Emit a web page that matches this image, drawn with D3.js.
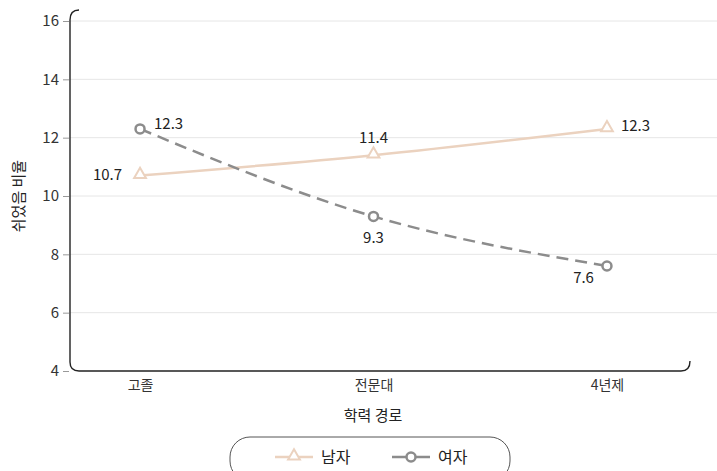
<!DOCTYPE html>
<html>
<head>
<meta charset="utf-8">
<script src="https://cdn.jsdelivr.net/npm/d3@7"></script>
<style>
  html, body { margin: 0; padding: 0; background: #fff; }
  svg text { font-family: "Noto Sans CJK KR", "Noto Sans", sans-serif; fill: #222; }
</style>
</head>
<body>
<svg id="chart" width="717" height="471"></svg>
<script>
// Education path categories and rates (%)
const categories = ["고졸", "전문대", "4년제"];
const maleValues = [10.7, 11.4, 12.3];
const femaleValues = [12.3, 9.3, 7.6];
const yTicks = [4, 6, 8, 10, 12, 14, 16];
const seriesNames = ["남자", "여자"];

const svg = d3.select("#chart");
const W = 717, H = 471;
const plotLeft = 70, plotRight = 690, plotTop = 21, plotBottom = 371;

const x = d3.scalePoint().domain(categories).range([70, 677]).padding(0.3);
const y = d3.scaleLinear().domain([4, 16]).range([plotBottom, plotTop]);

// grid lines
svg.append("g").selectAll("line").data(yTicks.filter(t => t > 4)).join("line")
  .attr("x1", plotLeft).attr("x2", W)
  .attr("y1", d => y(d)).attr("y2", d => y(d))
  .attr("stroke", "#e6e6e6").attr("stroke-width", 1);

// y axis ticks and labels
const yAxis = d3.axisLeft(y).tickValues(yTicks).tickSize(6).tickPadding(4);
const gy = svg.append("g").attr("transform", `translate(${plotLeft - 1},0)`).call(yAxis);
gy.select(".domain").remove();
gy.selectAll(".tick line").attr("stroke", "#999");
gy.selectAll(".tick text").style("font-size", "15px").style("fill", "#333");

// x axis labels
const xAxis = d3.axisBottom(x).tickSize(0).tickPadding(9);
const gx = svg.append("g").attr("transform", `translate(0,${plotBottom})`).call(xAxis);
gx.select(".domain").remove();
gx.selectAll(".tick text").style("font-size", "14px").style("fill", "#333");

// rounded frame
svg.append("path")
  .attr("d", `M ${plotLeft + 9},${plotTop - 11} Q ${plotLeft},${plotTop - 11} ${plotLeft},${plotTop - 1} L ${plotLeft},${plotBottom - 9} Q ${plotLeft},${plotBottom} ${plotLeft + 9},${plotBottom} L ${plotRight - 9},${plotBottom} Q ${plotRight},${plotBottom} ${plotRight},${plotBottom - 10}`)
  .attr("fill", "none").attr("stroke", "#222").attr("stroke-width", 1.4);

// axis titles
svg.append("text").attr("x", 373).attr("y", 421).attr("text-anchor", "middle")
  .style("font-size", "15px").text("학력 경로");
svg.append("text").attr("transform", `translate(24,${(plotTop + plotBottom) / 2}) rotate(-90)`)
  .attr("text-anchor", "middle").style("font-size", "15px").text("쉬었음 비율");

const maleColor = "#ebd2bf";
const femaleColor = "#8c8c8c";

const line = d3.line().x((d, i) => x(categories[i])).y(d => y(d)).curve(d3.curveMonotoneX);

// male series
svg.append("path").datum(maleValues).attr("d", line)
  .attr("fill", "none").attr("stroke", maleColor).attr("stroke-width", 2.5);
// female series
svg.append("path").datum(femaleValues).attr("d", line)
  .attr("fill", "none").attr("stroke", femaleColor).attr("stroke-width", 2.5)
  .attr("stroke-dasharray", "12,7");

const tri = d3.symbol().type(d3.symbolTriangle).size(60);
svg.append("g").selectAll("path").data(maleValues).join("path")
  .attr("d", tri)
  .attr("transform", (d, i) => `translate(${x(categories[i])},${y(d) - 1})`)
  .attr("fill", "#fff").attr("stroke", maleColor).attr("stroke-width", 2);

svg.append("g").selectAll("circle").data(femaleValues).join("circle")
  .attr("cx", (d, i) => x(categories[i])).attr("cy", d => y(d)).attr("r", 4.5)
  .attr("fill", "#fff").attr("stroke", femaleColor).attr("stroke-width", 2.5);

// value labels
const maleOffsets = [[-18, -1, "end"], [0, -17, "middle"], [14, -3, "start"]];
const femaleOffsets = [[14, 5, "start"], [0, 32, "middle"], [-13, 22, "end"]];
svg.append("g").selectAll("text").data(maleValues).join("text")
  .attr("x", (d, i) => x(categories[i]) + maleOffsets[i][0])
  .attr("y", d => y(d))
  .attr("dy", (d, i) => maleOffsets[i][1] + 5)
  .attr("text-anchor", (d, i) => maleOffsets[i][2])
  .style("font-size", "15px").text(d => d.toFixed(1));
svg.append("g").selectAll("text").data(femaleValues).join("text")
  .attr("x", (d, i) => x(categories[i]) + femaleOffsets[i][0])
  .attr("y", d => y(d))
  .attr("dy", (d, i) => femaleOffsets[i][1] - 5)
  .attr("text-anchor", (d, i) => femaleOffsets[i][2])
  .style("font-size", "15px").text(d => d.toFixed(1));

// legend
const lg = svg.append("g");
lg.append("rect").attr("x", 230).attr("y", 437).attr("width", 280).attr("height", 44)
  .attr("rx", 20).attr("fill", "#fff").attr("stroke", "#555").attr("stroke-width", 1);
const legendItems = [
  { name: seriesNames[0], color: maleColor, x: 275, shape: "tri" },
  { name: seriesNames[1], color: femaleColor, x: 392, shape: "circle" }
];
const ly = 457;
legendItems.forEach(it => {
  lg.append("line").attr("x1", it.x).attr("x2", it.x + 38).attr("y1", ly).attr("y2", ly)
    .attr("stroke", it.color).attr("stroke-width", 2.5);
  if (it.shape === "tri") {
    lg.append("path").attr("d", tri).attr("transform", `translate(${it.x + 19},${ly - 1})`)
      .attr("fill", "#fff").attr("stroke", it.color).attr("stroke-width", 2);
  } else {
    lg.append("circle").attr("cx", it.x + 19).attr("cy", ly).attr("r", 4.5)
      .attr("fill", "#fff").attr("stroke", it.color).attr("stroke-width", 2.5);
  }
  lg.append("text").attr("x", it.x + 46).attr("y", ly + 6).style("font-size", "16px").text(it.name);
});
</script>
</body>
</html>
